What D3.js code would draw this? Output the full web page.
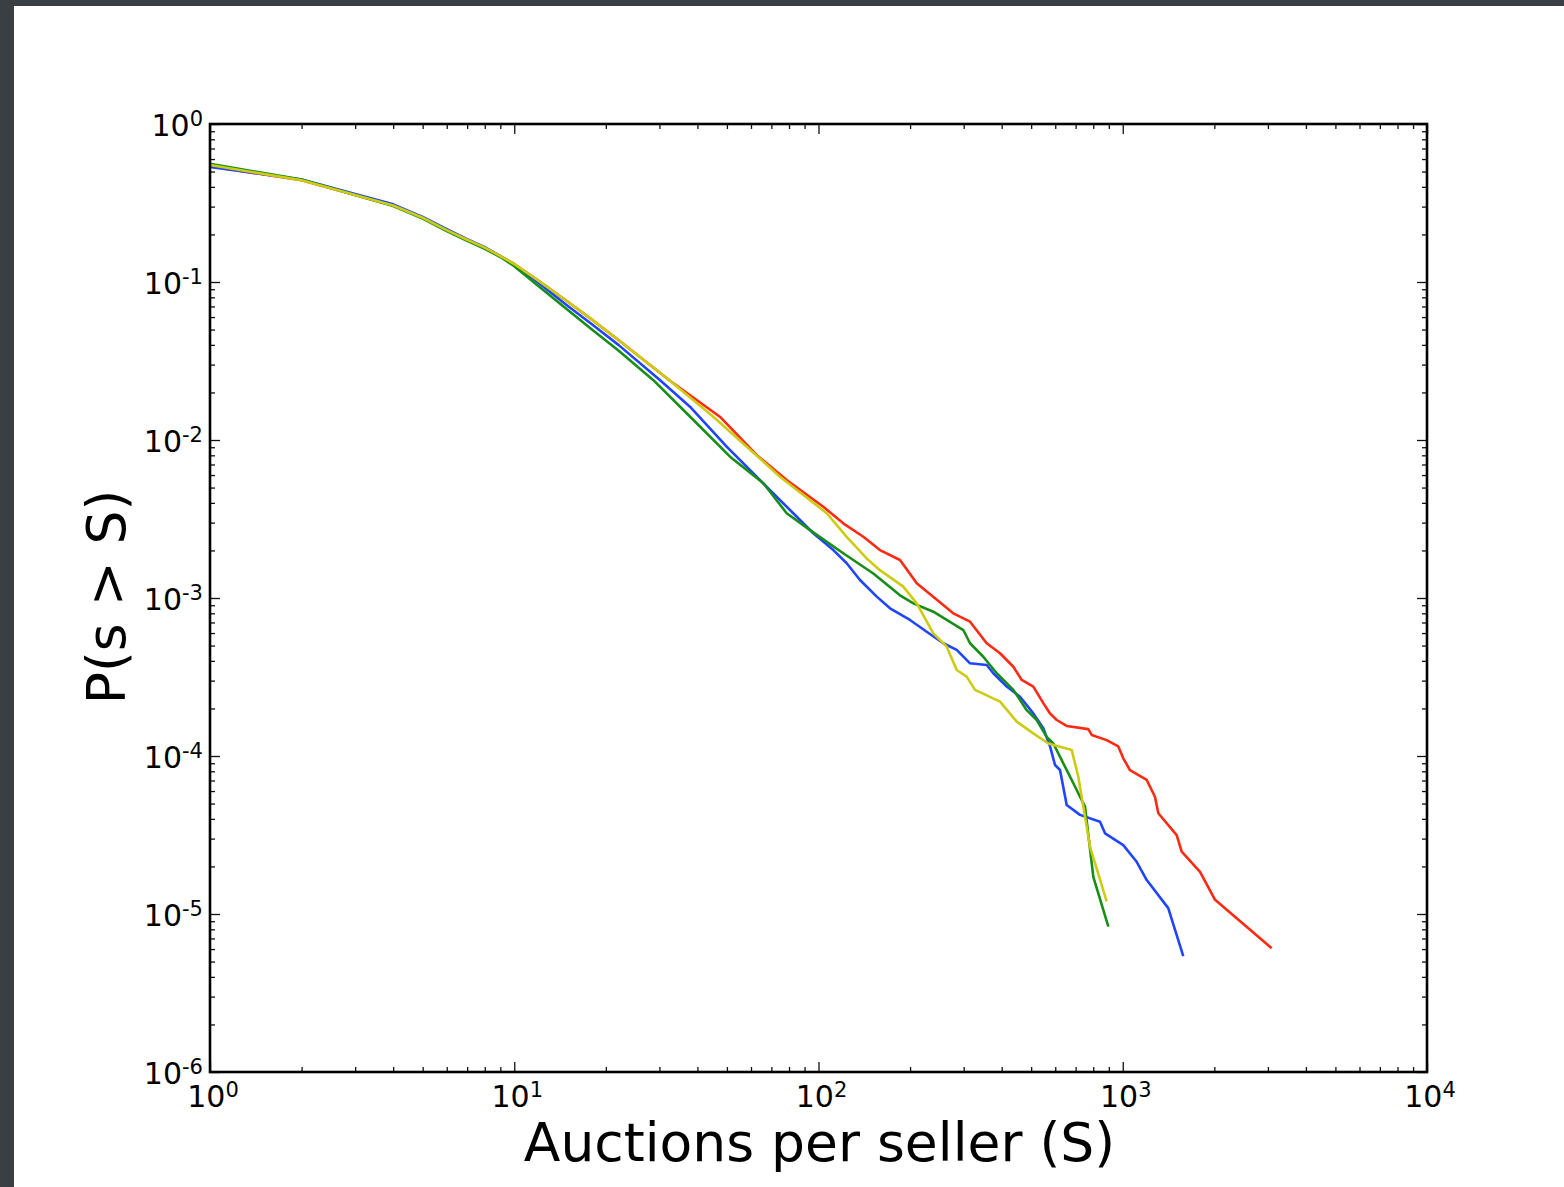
<!DOCTYPE html>
<html>
<head>
<meta charset="utf-8">
<script src="https://cdn.jsdelivr.net/npm/d3@7"></script>
<style>
  html, body { margin: 0; padding: 0; background: #393f42; }
  svg { display: block; }
</style>
</head>
<body>
<div id="chart"></div>
<script>
// data: S (auctions per seller) and P(s > S) per series
const redS = [1,2,3,4,5,6,7,8,9,10,12,15,18,22,32.5,47.4,62.6,78.6,103.7,120.6,140.4,159.2,185.3,210.3,277.3,314.8,357.1,395.1,436.9,465.6,508.2,548.2,576.8,606.7,654.3,770.4,790.7,885.2,966.9,1004,1056,1199,1276,1309,1504,1562,1795,2011,3087];
const redP = [.54,.44,.355,.305,.255,.213,.185,.165,.146,.130,.102,.075,.0578,.0430,.0237,.01404,.00804,.00558,.00378,.00297,.00244,.00201,.00174,.00124,.000800,.000708,.000517,.000447,.000367,.000303,.000275,.000216,.000186,.000169,.000155,.000148,.000136,.000126,.000115,.0000967,.0000815,.0000705,.0000552,.0000434,.0000316,.0000248,.0000185,.0000123,.00000607];

const blueS = [1,2,3,4,5,6,7,8,9,10,12,15,18,22,30.1,37.8,49.9,67.5,82.6,96.1,111.9,123.8,136.9,155.4,171.8,199.8,226.8,257.1,284.6,314.8,357.1,375.5,415.5,459.6,508.2,548.2,576.8,598.9,622.0,654.3,723.6,842.0,874.5,1004,1111,1199,1411,1581];
const blueP = [.535,.445,.36,.31,.258,.216,.187,.166,.146,.129,.099,.0705,.0540,.0400,.024,.01625,.00907,.00506,.00344,.00257,.00201,.00166,.00130,.00102,.000861,.000726,.000612,.000517,.000469,.000386,.000377,.000334,.000275,.000237,.000186,.000150,.000115,.0000877,.0000815,.0000490,.0000424,.0000384,.0000324,.0000273,.0000214,.0000164,.0000109,.00000542];

const greenS = [1,2,3,4,5,6,7,8,9,10,12,15,18,22,28.6,38.8,51.2,65.9,78.6,93.8,120.6,151.4,185.3,205.0,238.4,263.9,299.2,314.8,348.1,385.2,436.9,483.4,521.5,562.3,591.4,637.8,688.1,723.6,751.6,800.3,896.7];
const greenP = [.56,.445,.355,.303,.252,.21,.182,.162,.144,.126,.0945,.0665,.050,.0368,.024,.01339,.00784,.00532,.00344,.00269,.00192,.00143,.00104,.000925,.000819,.000726,.000627,.000517,.000425,.000334,.000262,.000195,.000169,.000132,.000120,.0000899,.0000672,.0000552,.0000478,.0000172,.00000831];

const yellowS = [1,2,3,4,5,6,7,8,9,10,12,15,18,22,32.5,45.1,58.1,74.7,106.4,123.8,144.0,159.2,190.0,210.3,238.4,263.9,284.6,306.9,326.9,395.1,448.3,508.2,569.2,679.6,714.4,780.6,885.2];
const yellowP = [.55,.44,.355,.305,.255,.213,.185,.165,.146,.130,.102,.075,.0578,.0430,.0237,.01404,.00907,.00586,.00344,.00244,.00178,.00150,.00118,.000925,.000598,.000492,.000350,.000318,.000262,.000221,.000165,.000139,.000120,.000109,.0000740,.0000267,.0000120];

const xTickExp = [0, 1, 2, 3, 4];
const yTickExp = [0, -1, -2, -3, -4, -5, -6];

const series = [
    {name: "red", S: redS, P: redP, color: "#ff2a12"},
    {name: "blue", S: blueS, P: blueP, color: "#1f45ff"},
    {name: "green", S: greenS, P: greenP, color: "#178f17"},
    {name: "yellow", S: yellowS, P: yellowP, color: "#cdcc12"}
];

const W = 1564, H = 1187;
let margin = {top: 124, left: 210},
    width = 1217,
    height = 948;

const svg = d3.select("#chart")
    .append("svg")
        .attr("width", W)
        .attr("height", H);

// white slide panel on the dark backdrop
svg.append("rect")
    .attr("width", W).attr("height", H)
    .attr("fill", "#393f42");
svg.append("rect")
    .attr("x", 14).attr("y", 6)
    .attr("width", W - 14).attr("height", H - 6)
    .attr("fill", "#ffffff");

const g = svg.append("g")
    .attr("transform", "translate(" + margin.left + "," + margin.top + ")");

const x = d3.scaleLog().domain([1, 1e4]).range([0, width]);
const y = d3.scaleLog().domain([1e-6, 1]).range([height, 0]);

const majorX = xTickExp.map(e => Math.pow(10, e));
const majorY = yTickExp.map(e => Math.pow(10, e));
const minorX = [], minorY = [];
xTickExp.slice(0, -1).forEach(e => { for (let k = 2; k < 10; k++) minorX.push(k * Math.pow(10, e)); });
yTickExp.slice(1).forEach(e => { for (let k = 2; k < 10; k++) minorY.push(k * Math.pow(10, e)); });

// inward ticks on all four sides
function tickAxis(axisFn, scale, values, size, transform) {
    const a = g.append("g")
        .attr("transform", transform)
        .call(axisFn(scale).tickValues(values).tickSize(-size).tickFormat(""));
    a.select(".domain").remove();
    a.selectAll("line").attr("stroke", "#111").attr("stroke-width", 1.3);
}
tickAxis(d3.axisBottom, x, majorX, 10, "translate(0," + height + ")");
tickAxis(d3.axisBottom, x, minorX, 5, "translate(0," + height + ")");
tickAxis(d3.axisTop, x, majorX, 10, "translate(0,0)");
tickAxis(d3.axisTop, x, minorX, 5, "translate(0,0)");
tickAxis(d3.axisLeft, y, majorY, 10, "translate(0,0)");
tickAxis(d3.axisLeft, y, minorY, 5, "translate(0,0)");
tickAxis(d3.axisRight, y, majorY, 10, "translate(" + width + ",0)");
tickAxis(d3.axisRight, y, minorY, 5, "translate(" + width + ",0)");

// curves
const line = d3.line()
    .x(d => x(d[0]))
    .y(d => y(d[1]));

g.append("g")
    .selectAll("path")
    .data(series)
    .enter()
    .append("path")
        .attr("d", s => line(s.S.map((v, i) => [v, s.P[i]])))
        .attr("fill", "none")
        .attr("stroke", s => s.color)
        .attr("stroke-width", 2.6)
        .attr("stroke-linejoin", "round");

// frame
g.append("rect")
    .attr("width", width).attr("height", height)
    .attr("fill", "none")
    .attr("stroke", "#000")
    .attr("stroke-width", 2.6);

// tick labels as 10^n
const font = "DejaVu Sans, sans-serif";
function powLabel(sel, e) {
    sel.append("tspan").text("10");
    sel.append("tspan")
        .attr("font-size", 21)
        .attr("dy", -10)
        .text(String(e));
}

g.append("g")
    .selectAll("text")
    .data(xTickExp)
    .enter()
    .append("text")
        .attr("x", e => x(Math.pow(10, e)) + 3)
        .attr("y", height + 35)
        .attr("text-anchor", "middle")
        .attr("font-family", font)
        .attr("font-size", 30)
        .attr("fill", "#000")
        .each(function (e) { powLabel(d3.select(this), e); });

g.append("g")
    .selectAll("text")
    .data(yTickExp)
    .enter()
    .append("text")
        .attr("x", -7)
        .attr("y", e => y(Math.pow(10, e)) + 12)
        .attr("text-anchor", "end")
        .attr("font-family", font)
        .attr("font-size", 30)
        .attr("fill", "#000")
        .each(function (e) { powLabel(d3.select(this), e); });

// axis titles
svg.append("text")
    .attr("x", margin.left + width / 2 + 1)
    .attr("y", 1161)
    .attr("text-anchor", "middle")
    .attr("font-family", font)
    .attr("font-size", 53.5)
    .text("Auctions per seller (S)");

svg.append("text")
    .attr("transform", "translate(125," + (margin.top + height / 2 - 1) + ") rotate(-90)")
    .attr("text-anchor", "middle")
    .attr("font-family", font)
    .attr("font-size", 53.5)
    .text("P(s > S)");
</script>
</body>
</html>
